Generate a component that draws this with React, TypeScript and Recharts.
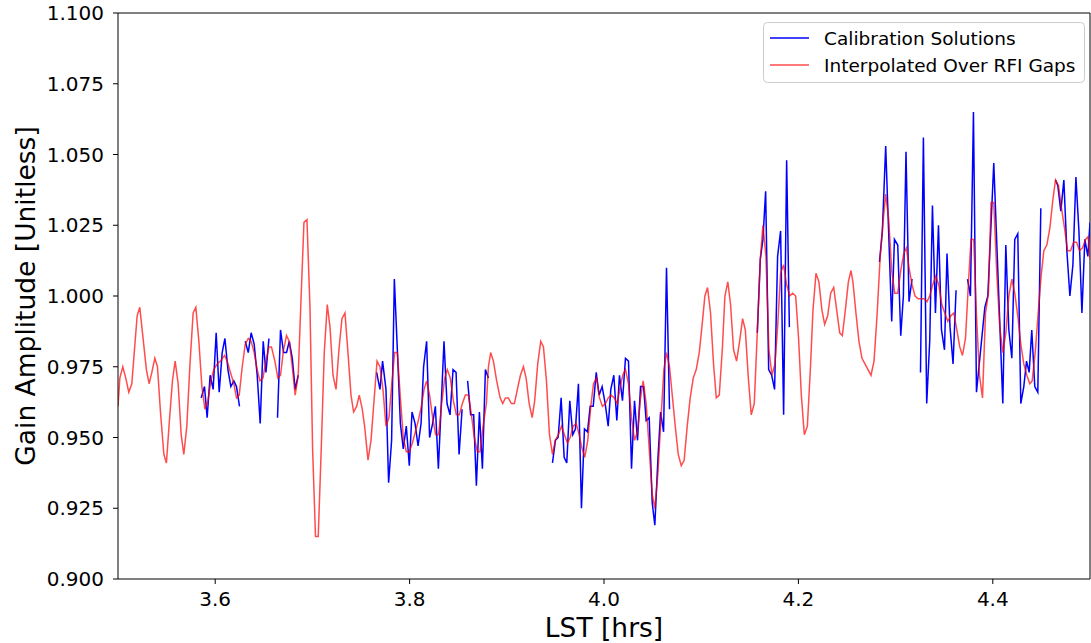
import React from 'react';
import { LineChart, Line, XAxis, YAxis, ReferenceLine } from 'recharts';

// Interpolated (red) series: LST [hrs] and gain amplitude
const rfiLst = [
  3.5000, 3.5019, 3.5049, 3.5080, 3.5111, 3.5142, 3.5197, 3.5224, 3.5258, 3.5292,
  3.5320, 3.5348, 3.5379, 3.5406, 3.5437, 3.5472, 3.5498, 3.5529, 3.5560, 3.5588,
  3.5619, 3.5650, 3.5677, 3.5708, 3.5739, 3.5773, 3.5801, 3.5832, 3.5863, 3.5894,
  3.5925, 3.5955, 3.5986, 3.6020, 3.6054, 3.6096, 3.6123, 3.6157, 3.6192, 3.6219,
  3.6247, 3.6278, 3.6309, 3.6340, 3.6370, 3.6401, 3.6432, 3.6460, 3.6491, 3.6522,
  3.6553, 3.6579, 3.6614, 3.6645, 3.6672, 3.6703, 3.6734, 3.6762, 3.6793, 3.6823,
  3.6854, 3.6882, 3.6913, 3.6944, 3.6975, 3.7002, 3.7032, 3.7060, 3.7091, 3.7122,
  3.7153, 3.7181, 3.7212, 3.7243, 3.7273, 3.7304, 3.7335, 3.7366, 3.7397, 3.7424,
  3.7455, 3.7482, 3.7513, 3.7537, 3.7572, 3.7603, 3.7634, 3.7665, 3.7695, 3.7726,
  3.7757, 3.7788, 3.7819, 3.7846, 3.7874, 3.7905, 3.7935, 3.7966, 3.7997, 3.8028,
  3.8059, 3.8090, 3.8121, 3.8149, 3.8175, 3.8206, 3.8237, 3.8268, 3.8299, 3.8330,
  3.8361, 3.8388, 3.8419, 3.8450, 3.8481, 3.8512, 3.8543, 3.8574, 3.8605, 3.8636,
  3.8666, 3.8697, 3.8725, 3.8756, 3.8790, 3.8811, 3.8834, 3.8862, 3.8896, 3.8931,
  3.8958, 3.8986, 3.9016, 3.9047, 3.9078, 3.9109, 3.9140, 3.9171, 3.9199, 3.9230,
  3.9261, 3.9287, 3.9318, 3.9349, 3.9377, 3.9408, 3.9439, 3.9470, 3.9500, 3.9531,
  3.9562, 3.9593, 3.9624, 3.9652, 3.9683, 3.9714, 3.9744, 3.9775, 3.9802, 3.9833,
  3.9864, 3.9892, 3.9923, 3.9954, 3.9984, 4.0015, 4.0043, 4.0074, 4.0105, 4.0136,
  4.0167, 4.0193, 4.0221, 4.0252, 4.0283, 4.0314, 4.0345, 4.0376, 4.0403, 4.0434,
  4.0465, 4.0496, 4.0523, 4.0554, 4.0585, 4.0616, 4.0643, 4.0674, 4.0702, 4.0733,
  4.0764, 4.0795, 4.0825, 4.0856, 4.0887, 4.0918, 4.0949, 4.0980, 4.1007, 4.1038,
  4.1065, 4.1096, 4.1127, 4.1155, 4.1186, 4.1217, 4.1244, 4.1274, 4.1302, 4.1333,
  4.1364, 4.1395, 4.1426, 4.1454, 4.1485, 4.1515, 4.1546, 4.1577, 4.1608, 4.1635,
  4.1666, 4.1697, 4.1728, 4.1759, 4.1786, 4.1817, 4.1848, 4.1879, 4.1910, 4.1941,
  4.1972, 4.2002, 4.2030, 4.2061, 4.2092, 4.2123, 4.2150, 4.2181, 4.2211, 4.2242,
  4.2270, 4.2301, 4.2332, 4.2363, 4.2394, 4.2425, 4.2452, 4.2483, 4.2514, 4.2541,
  4.2561, 4.2592, 4.2623, 4.2654, 4.2685, 4.2716, 4.2747, 4.2778, 4.2809, 4.2840,
  4.2870, 4.2898, 4.2929, 4.2960, 4.2991, 4.3022, 4.3053, 4.3084, 4.3111, 4.3138,
  4.3169, 4.3200, 4.3231, 4.3262, 4.3293, 4.3323, 4.3351, 4.3382, 4.3413, 4.3444,
  4.3475, 4.3506, 4.3537, 4.3568, 4.3599, 4.3630, 4.3660, 4.3688, 4.3719, 4.3750,
  4.3776, 4.3804, 4.3832, 4.3863, 4.3894, 4.3925, 4.3955, 4.3982, 4.4010, 4.4041,
  4.4072, 4.4103, 4.4134, 4.4165, 4.4196, 4.4226, 4.4257, 4.4288, 4.4319, 4.4350,
  4.4381, 4.4405, 4.4436, 4.4467, 4.4497, 4.4525, 4.4556, 4.4587, 4.4618, 4.4645,
  4.4676, 4.4707, 4.4738, 4.4769, 4.4800, 4.4831, 4.4862, 4.4892, 4.4923, 4.4954,
  4.4981, 4.5000,
];

const rfiGain = [
  0.961, 0.971, 0.975, 0.971, 0.966, 0.969, 0.993, 0.996, 0.985, 0.974,
  0.969, 0.973, 0.978, 0.975, 0.959, 0.944, 0.941, 0.956, 0.970, 0.977,
  0.969, 0.951, 0.944, 0.954, 0.975, 0.994, 0.996, 0.984, 0.968, 0.960,
  0.963, 0.970, 0.974, 0.976, 0.977, 0.979, 0.977, 0.973, 0.969, 0.964,
  0.965, 0.975, 0.983, 0.985, 0.984, 0.980, 0.974, 0.970, 0.971, 0.977,
  0.982, 0.982, 0.977, 0.971, 0.972, 0.981, 0.986, 0.984, 0.975, 0.965,
  0.972, 0.998, 1.026, 1.027, 0.996, 0.946, 0.915, 0.915, 0.946, 0.980,
  0.997, 0.989, 0.972, 0.967, 0.981, 0.992, 0.994, 0.980, 0.965, 0.959,
  0.961, 0.965, 0.960, 0.954, 0.942, 0.949, 0.963, 0.977, 0.975, 0.967,
  0.954, 0.957, 0.970, 0.980, 0.980, 0.964, 0.950, 0.945, 0.945, 0.948,
  0.952, 0.956, 0.961, 0.967, 0.970, 0.965, 0.957, 0.951, 0.951, 0.962,
  0.971, 0.974, 0.971, 0.963, 0.958, 0.958, 0.962, 0.965, 0.965, 0.958,
  0.950, 0.945, 0.945, 0.954, 0.962, 0.975, 0.980, 0.977, 0.970, 0.964,
  0.962, 0.964, 0.964, 0.962, 0.962, 0.967, 0.972, 0.975, 0.971, 0.962,
  0.957, 0.963, 0.976, 0.984, 0.982, 0.970, 0.951, 0.944, 0.949, 0.951,
  0.954, 0.951, 0.948, 0.950, 0.954, 0.955, 0.951, 0.946, 0.943, 0.949,
  0.961, 0.969, 0.971, 0.964, 0.961, 0.962, 0.964, 0.965, 0.964, 0.962,
  0.968, 0.972, 0.974, 0.969, 0.957, 0.949, 0.952, 0.964, 0.970, 0.962,
  0.946, 0.930, 0.925, 0.937, 0.956, 0.974, 0.980, 0.975, 0.965, 0.954,
  0.944, 0.940, 0.942, 0.954, 0.964, 0.971, 0.974, 0.980, 0.989, 1.000,
  1.003, 0.994, 0.976, 0.964, 0.965, 0.981, 1.000, 1.005, 0.997, 0.981,
  0.977, 0.984, 0.992, 0.988, 0.971, 0.958, 0.962, 0.987, 1.013, 1.025,
  1.014, 0.981, 0.972, 0.976, 0.989, 1.008, 1.011, 1.004, 1.000, 1.001,
  1.000, 0.985, 0.965, 0.951, 0.954, 0.974, 0.995, 1.008, 1.005, 0.995,
  0.990, 0.993, 1.001, 1.003, 0.995, 0.987, 0.986, 0.995, 1.005, 1.009,
  1.005, 0.994, 0.984, 0.978, 0.976, 0.974, 0.972, 0.977, 0.993, 1.013,
  1.026, 1.036, 1.027, 1.009, 1.001, 1.001, 1.009, 1.015, 1.017, 1.010,
  1.004, 1.000, 0.999, 0.999, 0.999, 0.998, 1.000, 1.004, 1.007, 1.004,
  0.997, 0.994, 0.991, 0.993, 0.994, 0.988, 0.982, 0.979, 0.985, 1.005,
  1.020, 1.020, 0.993, 0.972, 0.964, 0.994, 1.001, 1.033, 1.033, 1.008,
  0.989, 0.980, 0.987, 1.000, 1.006, 1.001, 0.993, 0.983, 0.976, 0.972,
  0.969, 0.970, 0.980, 0.994, 1.007, 1.016, 1.018, 1.024, 1.034, 1.041,
  1.039, 1.031, 1.024, 1.016, 1.016, 1.019, 1.019, 1.016, 1.017, 1.020,
  1.021, 1.013,
];

// Calibration solutions (blue); null marks an RFI gap
const calLst = [
  3.5856, 3.5890, 3.5917, 3.5948, 3.5979, 3.6010, 3.6041, 3.6072, 3.6100, 3.6131, 3.6161, 3.6192, 3.6219, 3.6250,
  3.6280,
  3.6309, 3.6340, 3.6370, 3.6401, 3.6432, 3.6463, 3.6494, 3.6522, 3.6553,
  3.6600,
  3.6641, 3.6672, 3.6703, 3.6734, 3.6762, 3.6793, 3.6823, 3.6854,
  3.7200,
  3.7661, 3.7695, 3.7722, 3.7757, 3.7784, 3.7815, 3.7843, 3.7874, 3.7905, 3.7935,
  3.7966, 3.7997, 3.8025, 3.8056, 3.8087, 3.8118, 3.8144, 3.8175, 3.8206, 3.8237,
  3.8265, 3.8296, 3.8327, 3.8354, 3.8385, 3.8416, 3.8447, 3.8478, 3.8509, 3.8540,
  3.8570,
  3.8597, 3.8628, 3.8659, 3.8687, 3.8718, 3.8749, 3.8780, 3.8811,
  3.9100,
  3.9470, 3.9500, 3.9528, 3.9559, 3.9590, 3.9617, 3.9648, 3.9679, 3.9706, 3.9737,
  3.9768, 3.9799, 3.9830, 3.9858, 3.9889, 3.9920, 3.9950, 3.9981, 4.0012, 4.0043,
  4.0070, 4.0101, 4.0132, 4.0159, 4.0190, 4.0221, 4.0252, 4.0283, 4.0314, 4.0345,
  4.0376, 4.0407, 4.0434, 4.0465, 4.0496, 4.0523, 4.0554, 4.0582, 4.0613, 4.0643, 4.0674,
  4.1000,
  4.1577, 4.1608, 4.1635, 4.1663, 4.1694, 4.1725, 4.1755, 4.1786, 4.1817, 4.1848, 4.1879, 4.1907,
  4.2300,
  4.2834, 4.2864, 4.2898, 4.2929, 4.2960, 4.2988, 4.3022, 4.3053, 4.3080, 4.3107, 4.3138, 4.3169,
  4.3210,
  4.3256, 4.3286, 4.3320, 4.3351, 4.3379, 4.3410, 4.3441, 4.3472, 4.3503, 4.3529, 4.3560, 4.3591, 4.3622,
  4.3680,
  4.3740, 4.3770, 4.3801, 4.3832, 4.3918, 4.3949, 4.4010, 4.4103, 4.4134, 4.4165,
  4.4196, 4.4226, 4.4257, 4.4288, 4.4319, 4.4347, 4.4374, 4.4401, 4.4432, 4.4463, 4.4494,
  4.4570,
  4.4645, 4.4669, 4.4700, 4.4731, 4.4762, 4.4793, 4.4824, 4.4855, 4.4886, 4.4917, 4.4947, 4.4978, 4.5000,
];

const calGain = [
  0.964, 0.968, 0.957, 0.972, 0.967, 0.987, 0.966, 0.980, 0.985, 0.974, 0.968, 0.970, 0.968, 0.961,
  null,
  0.984, 0.980, 0.987, 0.983, 0.972, 0.955, 0.984, 0.973, 0.985,
  null,
  0.957, 0.988, 0.980, 0.980, 0.984, 0.978, 0.967, 0.972,
  null,
  0.973, 0.967, 0.977, 0.967, 0.934, 0.949, 1.006, 0.981, 0.955, 0.946,
  0.954, 0.940, 0.959, 0.955, 0.947, 0.955, 0.975, 0.984, 0.950, 0.955,
  0.961, 0.939, 0.963, 0.984, 0.962, 0.958, 0.974, 0.973, 0.944, 0.960,
  null,
  0.970, 0.958, 0.958, 0.933, 0.959, 0.939, 0.974, 0.971,
  null,
  0.941, 0.949, 0.950, 0.964, 0.943, 0.941, 0.963, 0.951, 0.953, 0.969,
  0.925, 0.953, 0.952, 0.961, 0.961, 0.973, 0.965, 0.968, 0.962, 0.954,
  0.967, 0.972, 0.956, 0.972, 0.963, 0.978, 0.977, 0.939, 0.963, 0.949,
  0.968, 0.968, 0.956, 0.957, 0.927, 0.919, 0.942, 0.959, 0.952, 1.010, 0.960,
  null,
  0.987, 1.013, 1.020, 1.037, 0.974, 0.972, 0.967, 1.014, 1.023, 0.958, 1.048, 0.989,
  null,
  1.012, 1.023, 1.053, 1.022, 0.991, 1.020, 1.018, 0.986, 1.000, 1.051, 0.998, 1.006,
  null,
  0.973, 1.056, 0.962, 0.984, 1.032, 0.994, 1.025, 0.988, 0.981, 1.015, 0.989, 0.976, 1.002,
  null,
  1.006, 1.000, 1.065, 0.966, 0.996, 1.000, 1.047, 0.962, 1.018, 0.988,
  0.978, 1.020, 1.022, 0.962, 0.968, 0.977, 0.973, 0.988, 0.968, 0.966, 1.031,
  null,
  1.041, 1.039, 1.030, 1.041, 1.016, 1.000, 1.011, 1.042, 1.023, 0.994, 1.020, 1.014, 1.026,
];

const xTicks = [3.6, 3.8, 4.0, 4.2, 4.4];
const yTicks = [0.9, 0.925, 0.95, 0.975, 1.0, 1.025, 1.05, 1.075, 1.1];
const seriesNames = ['Calibration Solutions', 'Interpolated Over RFI Gaps'];

const rfiData = rfiLst.map((lst, i) => ({ lst, gain: rfiGain[i] }));
const calData = calLst.map((lst, i) => ({ lst, gain: calGain[i] }));

const FONT = '"DejaVu Sans", sans-serif';
const BLUE = '#0000ff';
const RED = '#ff0000';

const YLabel = (props: any) => {
  const vb = props.viewBox || {};
  const cy = vb.y + vb.height / 2;
  return (
    <text x={35} y={cy} transform={`rotate(-90, 35, ${cy})`} textAnchor="middle"
      fontFamily={FONT} fontSize={26.5} fill="#000">Gain Amplitude [Unitless]</text>
  );
};

const XLabel = (props: any) => {
  const vb = props.viewBox || {};
  const cx = vb.x + vb.width / 2;
  return (
    <text x={cx} y={637} textAnchor="middle" fontFamily={FONT} fontSize={26.5} fill="#000">LST [hrs]</text>
  );
};

export default function App() {
  return (
    <div style={{ position: 'absolute', left: 0, top: 0, width: 1091, height: 643, background: '#fff' }}>
      <LineChart width={1091} height={643} margin={{ top: 13, right: 1, left: 0, bottom: 0 }}>
        <XAxis dataKey="lst" type="number" domain={[3.5, 4.5]} ticks={xTicks} allowDataOverflow
          tickFormatter={(v: number) => v.toFixed(1)} height={64} tickSize={5} tickMargin={8}
          stroke="#000" tick={{ fill: '#000', fontSize: 20, fontFamily: FONT }}
          label={<XLabel />} />
        <YAxis type="number" domain={[0.9, 1.1]} ticks={yTicks} allowDataOverflow
          tickFormatter={(v: number) => v.toFixed(3)} width={118} tickSize={5} tickMargin={9}
          stroke="#000" tick={{ fill: '#000', fontSize: 20, fontFamily: FONT }}
          label={<YLabel />} />
        <ReferenceLine y={1.1} stroke="#000" />
        <ReferenceLine x={4.5} stroke="#000" />
        <Line data={calData} dataKey="gain" type="linear" stroke={BLUE} strokeWidth={1.5}
          dot={false} activeDot={false} connectNulls={false} isAnimationActive={false} name={seriesNames[0]} />
        <Line data={rfiData} dataKey="gain" type="linear" stroke={RED} strokeOpacity={0.7} strokeWidth={1.5}
          dot={false} activeDot={false} isAnimationActive={false} name={seriesNames[1]} />
      </LineChart>
      <svg width={1091} height={643} style={{ position: 'absolute', left: 0, top: 0, pointerEvents: 'none' }}>
        <rect x={763.5} y={22.5} width={321} height={60} rx={4} ry={4} fill="#fff" fillOpacity={0.8} stroke="#cccccc" strokeWidth={1} />
        <line x1={770} x2={809} y1={38} y2={38} stroke={BLUE} strokeWidth={1.5} />
        <text x={824} y={44.5} fontFamily={FONT} fontSize={18.5} fill="#000">{seriesNames[0]}</text>
        <line x1={770} x2={809} y1={65} y2={65} stroke={RED} strokeOpacity={0.7} strokeWidth={1.5} />
        <text x={824} y={71.5} fontFamily={FONT} fontSize={18.5} fill="#000">{seriesNames[1]}</text>
      </svg>
    </div>
  );
}
